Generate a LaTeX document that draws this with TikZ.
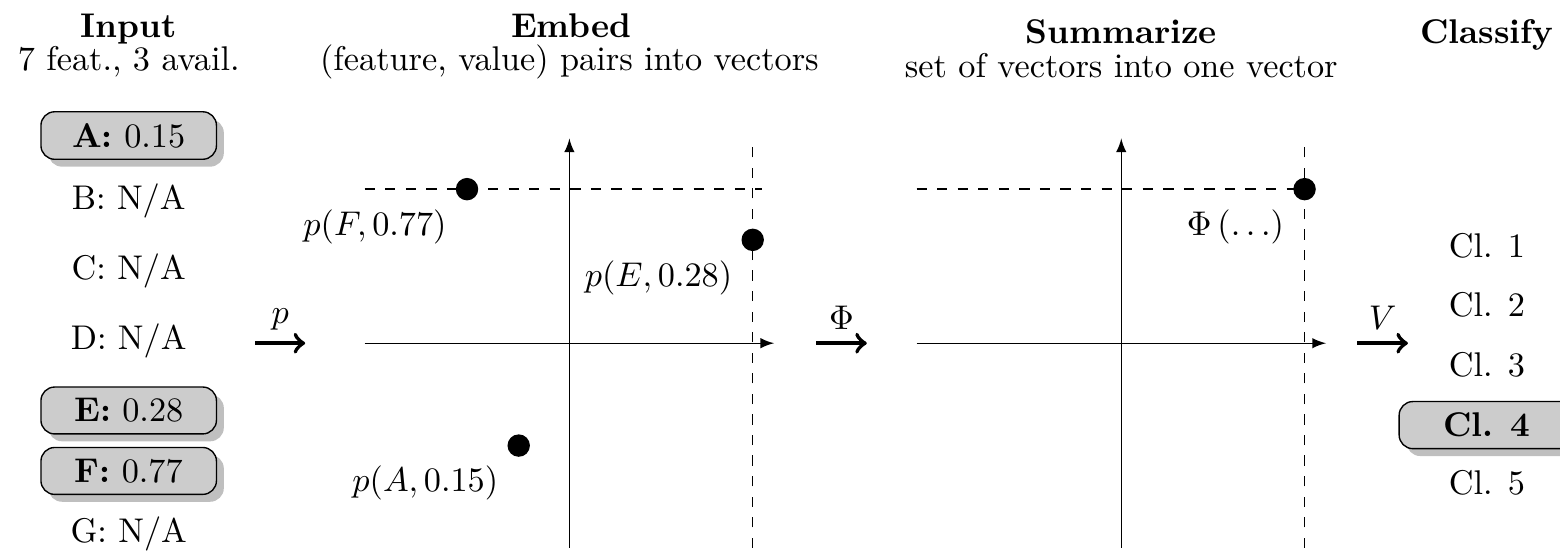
\documentclass[tikz,border=0pt]{standalone}
\usetikzlibrary{shadows}
\begin{document}
\begin{tikzpicture}[>=latex,
  avail/.style={draw,rounded corners,fill=black!20,drop shadow,minimum width=1.8cm},
  dotnode/.style={circle,fill,inner sep=0pt,minimum size=0.23cm},
  flow/.style={-to,very thick},
  hdr/.style={anchor=base}]
\clip (0,0) rectangle (16,-5.66);
% input column
\node[hdr] (tinput) at (1.32,-0.38) {\textbf{Input}};
\node[hdr] (sinput) at (1.32,-0.72) {7 feat., 3 avail.};
\node[avail] (fA) at (1.32,-1.39) {\textbf{A:} 0.15};
\node (fB) at (1.32,-2.06) {B: N/A};
\node (fC) at (1.32,-2.78) {C: N/A};
\node (fD) at (1.32,-3.50) {D: N/A};
\node[avail] (fE) at (1.32,-4.21) {\textbf{E:} 0.28};
\node[avail] (fF) at (1.32,-4.83) {\textbf{F:} 0.77};
\node (fG) at (1.32,-5.48) {G: N/A};
% embed
\node[hdr] (tembed) at (5.86,-0.38) {\textbf{Embed}};
\node[hdr] (sembed) at (5.84,-0.72) {(feature, value) pairs into vectors};
\begin{scope}[shift={(5.84,-3.52)}]
\draw[->] (-2.1,0) -- (2.1,0);
\draw[->] (0,-2.1) -- (0,2.1);
\draw[dashed] (-2.1,1.58) -- (1.98,1.58);
\draw[dashed] (1.88,-2.1) -- (1.88,2.02);
\node[dotnode,label=below left:{$p(F,0.77)$}] (dF) at (-1.05,1.58) {};
\node[dotnode,label=below left:{$p(E,0.28)$}] (dE) at (1.88,1.06) {};
\node[dotnode,label=below left:{$p(A,0.15)$}] (dA) at (-0.52,-1.05) {};
\end{scope}
% summarize
\node[hdr] (tsum) at (11.50,-0.45) {\textbf{Summarize}};
\node[hdr] (ssum) at (11.50,-0.79) {set of vectors into one vector};
\begin{scope}[shift={(11.50,-3.52)}]
\draw[->] (-2.1,0) -- (2.1,0);
\draw[->] (0,-2.1) -- (0,2.1);
\draw[dashed] (-2.1,1.58) -- (1.98,1.58);
\draw[dashed] (1.88,-2.1) -- (1.88,2.02);
\node[dotnode,label=below left:{$\Phi\left(\ldots\right)$}] (dP) at (1.88,1.58) {};
\end{scope}
% classify
\node[hdr] (tcls) at (15.25,-0.45) {\textbf{Classify}};
\node (c1) at (15.25,-2.52) {Cl. 1};
\node (c2) at (15.25,-3.13) {Cl. 2};
\node (c3) at (15.25,-3.74) {Cl. 3};
\node[avail] (c4) at (15.25,-4.36) {\textbf{Cl. 4}};
\node (c5) at (15.25,-4.95) {Cl. 5};
% arrows between steps
\coordinate (p0) at (2.62,-3.52);
\coordinate (p1) at (3.13,-3.52);
\coordinate (f0) at (8.37,-3.52);
\coordinate (f1) at (8.89,-3.52);
\coordinate (v0) at (13.92,-3.52);
\coordinate (v1) at (14.44,-3.52);
\draw[flow] (p0) -- (p1) node[midway,above] {$p$};
\draw[flow] (f0) -- (f1) node[midway,above] {$\Phi$};
\draw[flow] (v0) -- (v1) node[midway,above] {$V$};
\end{tikzpicture}
\end{document}
